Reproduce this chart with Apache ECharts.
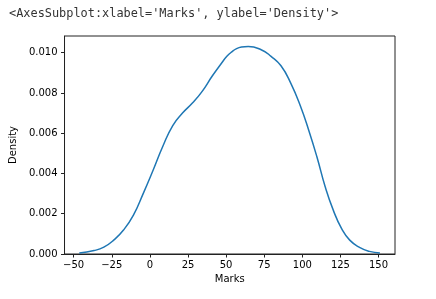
<!DOCTYPE html>
<html>
<head>
<meta charset="utf-8">
<script src="https://cdn.jsdelivr.net/npm/echarts@6/dist/echarts.min.js"></script>
<style>html,body{margin:0;padding:0;background:#fff}#c{width:436px;height:299px}</style>
</head>
<body>
<div id="c"></div>
<script>
const titleText = "<AxesSubplot:xlabel='Marks', ylabel='Density'>";
const marks = [-46.3,-36.6,-30.2,-23.7,-17.3,-10.8,-4.4,2.1,8.5,15.0,21.4,27.9,34.3,40.8,47.2,50.5,53.7,56.9,60.1,64.5,73.0,79.5,86.0,92.4,98.8,104.2,109.6,115.0,120.3,125.7,131.1,137.5,144.0,150.9];
const density = [0.00005,0.00017,0.00034,0.00069,0.00119,0.00193,0.00300,0.00416,0.00535,0.00638,0.00700,0.00750,0.00808,0.00883,0.00950,0.00982,0.01004,0.01020,0.01028,0.01031,0.01015,0.00982,0.00935,0.00849,0.00734,0.00615,0.00482,0.00334,0.00218,0.00127,0.00069,0.00033,0.00013,0.00005];
const xTicks = [-50,-25,0,25,50,75,100,125,150];
const yTicks = [0,0.002,0.004,0.006,0.008,0.010];

const chart = echarts.init(document.getElementById('c'), null, {renderer:'canvas'});
const font = 'DejaVu Sans';
const axisCol = '#222';
chart.setOption({
  animation:false,
  backgroundColor:'#fff',
  title:{text:titleText,left:9,top:8,padding:0,textStyle:{fontFamily:'DejaVu Sans Mono',fontSize:11.9,fontWeight:'normal',color:'#333'}},
  grid:{left:61,right:41,top:36,bottom:45,show:true,borderColor:axisCol,borderWidth:1,backgroundColor:'transparent'},
  xAxis:{type:'value',min:-56,max:160.8,
    name:'Marks',nameLocation:'middle',nameGap:20,
    nameTextStyle:{fontFamily:font,fontSize:10,color:'#000'},
    axisLine:{show:true,onZero:false,lineStyle:{color:axisCol,width:1}},
    axisTick:{show:true,length:3.5,lineStyle:{color:axisCol},customValues:xTicks},
    axisLabel:{fontFamily:font,fontSize:10,color:'#000',margin:6,customValues:xTicks,formatter:v=>String(v).replace('-','\u2212')},
    splitLine:{show:false}},
  yAxis:{type:'value',min:0,max:0.01083,
    name:'Density',nameLocation:'middle',nameGap:40,
    nameTextStyle:{fontFamily:font,fontSize:10,color:'#000'},
    axisLine:{show:true,onZero:false,lineStyle:{color:axisCol,width:1}},
    axisTick:{show:true,length:3.5,lineStyle:{color:axisCol},customValues:yTicks},
    axisLabel:{fontFamily:font,fontSize:10,color:'#000',margin:7,customValues:yTicks,formatter:v=>v.toFixed(3)},
    splitLine:{show:false}},
  series:[{type:'line',data:marks.map((m,i)=>[m,density[i]]),smooth:0.5,showSymbol:false,
    lineStyle:{color:'#1f77b4',width:1.5}}]
});
</script>
</body>
</html>
